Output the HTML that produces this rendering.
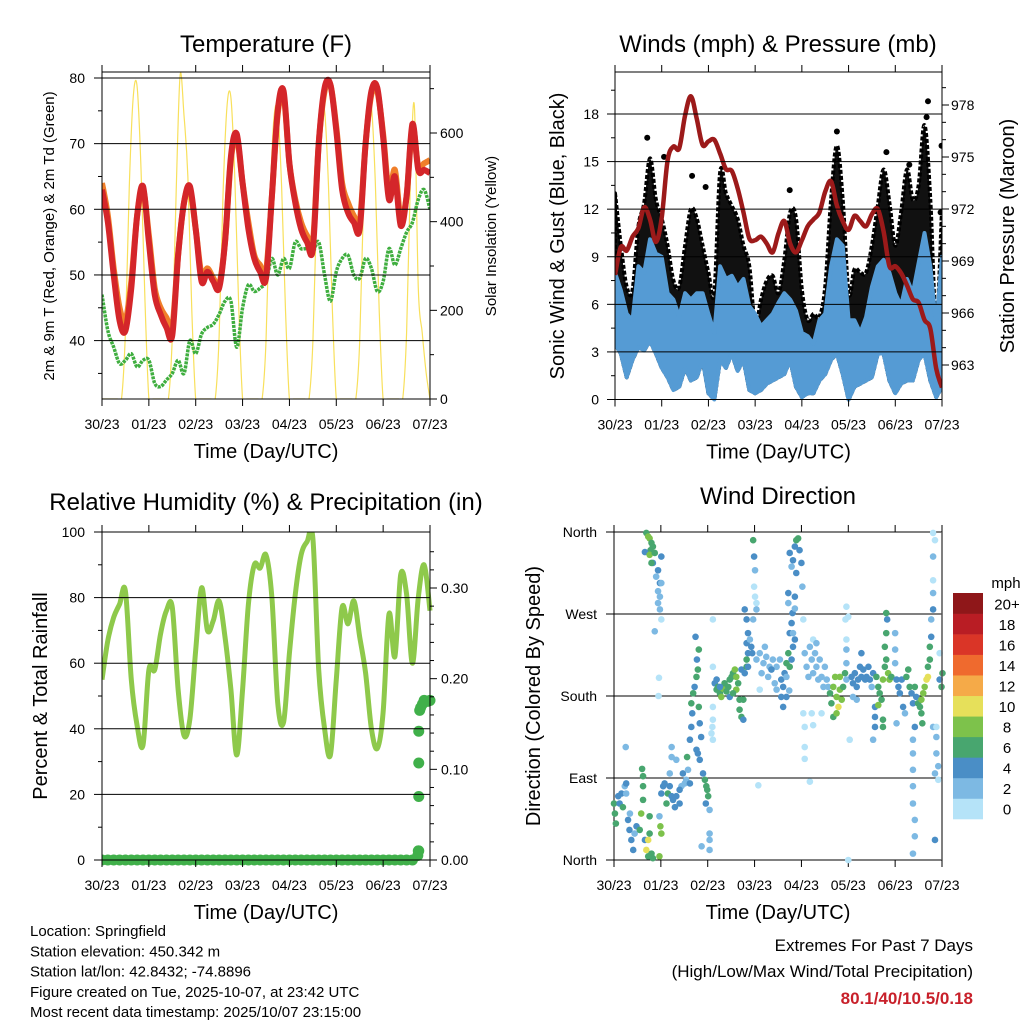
<!DOCTYPE html>
<html><head><meta charset="utf-8"><style>
html,body{margin:0;padding:0;background:#fff;}
svg{display:block;font-family:"Liberation Sans",Arial,sans-serif;}
</style></head><body>
<svg id="chart" width="1024" height="1024" viewBox="0 0 1024 1024" xmlns="http://www.w3.org/2000/svg">
<rect width="1024" height="1024" fill="#fff"/>
<g id="root"></g>
</svg>
<script>
// ---------- shared time axis ----------
const dayLabels = ['30/23','01/23','02/23','03/23','04/23','05/23','06/23','07/23'];
// ---------- temperature panel (3-hourly) ----------
const temp2m = [63,58,50,43,41.5,48,59,63.5, 55,47,44,42,40.8,53,61,63.5, 57,49,50.5,49,48,55,68,71.5, 64,57,52.5,50.5,49.5,62,75,78, 67,61,57,55,54,70,78.5,79, 72,63,59.5,58,57,70,78,78.5, 71,61.5,65,57.5,62,73,66,66, 65.5];
const temp9m = [64,59,51,45,43,49,59,63, 56,48,45,43.5,42,53,61,63, 57,50,51,49.5,48.5,55,67.5,71, 64,58,53,51.5,50.5,62,74.5,77.5, 67,61.5,58,56,55,70,78,79, 72.5,64,61,59,58,70,77.5,78, 71.5,62.5,66,58.5,62,72.5,66.5,67, 67.5];
const dew2m = [47,41.5,39,36.5,37,38,36,37, 37,33.5,33,34,35,37,35,40, 38,41,42,42.5,44,46,46,39, 45,48.5,47.5,48,49,52.5,50,52.5, 51,55,54,54,53.5,55,50,46, 50.5,52.5,53,50,49.5,52.5,51,47.5, 49,54,51.5,54,56.5,58,61.5,63, 60];
// solar insolation, 2-hourly
const solar = [0,0,0,0,0,0,150,480,680,705,520,220,
 0,0,0,0,0,0,140,470,730,640,500,200,
 0,0,0,0,0,0,140,460,660,680,500,210,
 0,0,0,0,0,0,130,440,630,650,480,200,
 0,0,0,0,0,0,130,440,640,650,480,200,
 0,0,0,0,0,0,130,450,650,660,490,200,
 0,0,0,0,0,0,150,500,660,250,150,60, 0];
const tempTicks = [40,50,60,70,80];
const solarTicks = [0,200,400,600];
// ---------- wind panel (3-hourly) ----------
const windHi = [8.0,6.9,5.4,5.0,8.4,8.0,10.1,9.2, 9.0,6.7,6.3,5.2,6.7,6.3,6.7,6.7, 5.4,4.2,8.4,7.6,7.8,7.1,7.6,5.9, 5.4,4.6,5.0,5.4,6.1,6.7,6.3,5.6, 4.2,4.0,3.5,5.0,5.4,8.4,10.1,9.7, 5.0,5.0,4.2,5.2,7.1,8.4,8.8,8.0, 6.7,5.9,7.6,6.7,8.6,10.5,8.4,4.6, 9.0];
const windLo = [3.5,2.9,1.4,2.5,3.3,3.1,3.7,2.9, 2.0,1.4,0.6,0.8,2.0,1.2,1.4,2.5, 0.4,0,2.5,2.0,2.9,1.8,2.5,0.6, 0.4,0.6,1.0,1.2,1.4,1.6,2.5,0.8, 0.15,0.4,0.4,1.2,1.6,2.5,2.9,1.6, 0,0.8,1.0,1.2,1.4,2.9,2.9,1.2, 0.4,1.0,1.2,1.2,2.5,2.9,1.2,0.15, 0.8];
const gustHi = [13,9.7,7.1,6.9,10.9,12.4,15.2,12.6, 11.4,9.7,7.5,7.1,9.7,12,11.4,9.7, 8,6.7,14.3,13,12.2,11.4,9.7,8.4, 4.6,6.3,7.5,7.8,6.7,8.8,11.8,11.4, 6.9,5,5.4,5.2,7.1,12.6,16,12.6, 6.7,8.2,8,8,9.7,12.2,14.5,12.4, 9.7,11.8,14.5,12.6,13.5,17.3,12.6,4.6, 12];
const gustOutT = [6.70,6.67,4.75,0.69,1.05,1.65,1.94,3.74,6.99,5.81,6.30,6.97];
const gustOutV = [18.8,17.8,16.9,16.5,15.3,14.1,13.4,13.2,16.0,15.6,14.8,11.8];
const pressure = [968.2,969.8,969.6,970.4,970.9,972.1,971.4,970.1, 971.5,974.8,975.6,975.5,977.4,978.5,977.2,975.7, 975.9,976.0,975.2,974.3,974.2,973.2,971.8,970.3, 970.2,970.4,970.0,969.5,970.6,971.3,970.0,969.5, 970.2,971.0,971.4,971.8,973.0,973.6,972.2,971.3, 970.8,971.6,971.3,971.0,971.7,972.0,970.7,968.7, 968.7,968.3,967.6,966.8,966.6,965.6,965.1,962.8, 961.7];
const windTicks = [0,3,6,9,12,15,18];
const presTicks = [963,966,969,972,975,978];
// ---------- RH / precip (3-hourly) ----------
const rh = [55,67,74,78,82,55,41,35, 58,58,69,76,77,52,38,43, 64,83,70,73,79,68,52,32, 52,78,90,89,93,80,48,42, 63,81,93,97,98,58,40,32, 55,77,72,79,68,57,40,34, 45,75,62,87,81,60,80,90, 76];
const precip3h = [0,0,0,0,0,0,0,0, 0,0,0,0,0,0,0,0, 0,0,0,0,0,0,0,0, 0,0,0,0,0,0,0,0, 0,0,0,0,0,0,0,0, 0,0,0,0,0,0,0,0, 0,0,0,0,0,0,0.01,0.176, 0.176];
const precipBurstT = [6.74,6.76,6.76,6.76,6.76,6.78,6.80,6.84,6.95];
const precipBurstV = [0.005,0.01,0.07,0.107,0.142,0.165,0.168,0.172,0.175];
const rhTicks = [0,20,40,60,80,100];
const prTicks = [0,0.1,0.2,0.3];
const prTickLabels = ['0.00','0.10','0.20','0.30'];
// ---------- wind direction ----------
const dirTicks = [0,90,180,270,360];
const dirLabels = ['North','East','South','West','North'];
const spdLabels = ['0','2','4','6','8','10','12','14','16','18','20+'];
const windDirT = [
0.00,0.02,0.04,0.09,0.12,0.16,0.19,0.23,0.26,0.26, 0.30,0.33,0.37,0.41,0.44,0.48,0.34, 0.25,
0.55,0.58,0.62,0.62,0.62,0.60,0.66,0.69,0.73,0.76,0.76,0.80,0.73, 0.83,0.97,0.99,1.01,0.97, 0.96,0.95,
0.69,0.73,0.76,0.80,0.83,0.78,0.66,0.76,0.87,0.83,0.80,0.94,0.90,0.98,0.94,0.98,0.94,0.98,1.01,0.87,1.01,1.01,
1.01,1.05,1.08,1.12,1.15,1.19,1.23,1.26,1.30,1.33,1.40,1.44,1.47,1.51,1.40,1.54,1.58,1.62,
1.23,1.23,1.33,1.19,
1.56,1.62,1.65,1.67,1.65,1.69,1.72,1.76,1.79,1.74,1.77,1.81,1.83,1.86,1.76,1.79,1.83,1.81,
1.90,1.94,1.97,2.01,1.96,2.04,1.99, 2.04,2.04,2.04,1.87, 2.11,2.11,2.10,2.11,2.08,2.11,2.11,
2.15,2.19,2.22,2.26,2.29,2.33,2.36,2.40,2.44,2.47,2.51,2.54,2.58,2.61,2.61,2.65,2.68,2.68,2.72,2.76,2.72,2.76,2.79,2.83,2.83,2.86,2.86,2.19,2.26,2.47,2.54,
2.79,2.83,2.86,2.83,2.90,2.93,2.95, 2.97,2.99,3.01,2.99,3.01,3.04,3.04,2.97, 3.08,
3.04,3.11,3.19,3.25,3.32,3.39,3.47,3.15,3.22,3.29,3.36,3.43,3.54,3.57,3.61,3.57,3.61,3.64,3.68,3.72,3.75,3.79,3.82,3.75,3.79,3.86,3.81,3.72,3.68,3.11,3.47,
3.75,3.79,3.82,3.86,3.89,3.93,3.96,4.00,3.89,3.86,3.86,3.72,4.02,4.04,3.82, 3.74,3.68,
4.07,4.11,4.15,4.18,4.22,4.25,4.29,4.32,4.36,4.39,4.43,4.47,4.50,4.54,4.57,4.25,4.32,
4.61,4.64,4.68,4.72,4.75,4.79,4.82,4.86,4.89,4.82,4.68,4.75,4.93,4.96,4.96,
4.04,4.07,4.07,4.07,4.18,4.22,4.43,4.25, 4.96,5.00,4.94,4.96,4.96, 5.03,5.00,
5.07,5.10,5.14,5.18,5.21,5.25,5.28,5.32,5.36,5.39,5.43,5.46,5.50,5.53,5.10,5.18,5.28,
5.60,5.64,5.67,5.71,5.74,5.78,5.81,5.85,5.88,5.92,5.78,5.81,5.83,5.81,5.74,5.74,5.57,5.57,5.57,5.53,5.64,
6.00,6.00,6.00,6.03,6.07,6.10,6.14,6.17,6.21,6.03,6.24,6.28,6.31,6.35,6.38,6.42,6.45,6.49,6.53,6.56,6.60,6.63,6.67,6.70,6.70,6.74,6.74,6.77,6.77,6.81,6.81,6.81,6.81,6.85,6.81,
6.56,6.58,6.42,6.38,6.38,6.38,6.38,6.38,6.42,6.42,6.38,6.85,6.81,6.88,6.88,6.92,6.85,6.92,6.95,6.99,7.01,6.95,6.88];
const windDirDeg = [
62,51,40,70,62,73,58,81,84,73, 44,33,22,11,29,37,51, 124,
33,51,66,81,92,100,22,11,22,29,48,7,4, 2,4,37,29,48, 200,180,
359,355,353,348,344,340,338,335,337,326,326,318,311,304,295,289,282,275,264,251,333,304,
73,81,84,62,73,81,70,66,58,70,62,81,95,84,77,88,99,84,
124,113,110,95,
113,132,146,161,172,183,190,201,209,245,220,231,150,135,121,117,110,168,
95,88,81,70,62,55,77, 29,22,11,15, 168,154,146,132,139,212,264,
194,187,190,183,179,188,194,185,190,198,201,205,209,201,187,194,176,165,157,176,209,154,205,212,220,227,212,198,190,179,183,
275,264,249,238,242,234,227, 351,333,318,300,289,282,275,264, 82,
220,227,216,223,212,220,212,205,234,201,209,194,220,198,190,179,168,205,216,227,212,220,234,249,260,242,271,282,201,187,187,
337,322,329,344,351,353,340,326,315,289,276,293,300,264,249, 186,179,
227,212,201,234,220,205,227,212,198,220,201,190,212,198,190,242,238,
183,172,190,201,179,168,187,176,190,201,157,161,205,198,216,
161,146,124,111,86,161,161,148, 278,267,264,242,231, 132,0,
201,194,205,190,198,212,201,209,198,201,212,198,190,205,179,176,227,
201,190,183,176,198,212,220,205,198,201,234,249,264,271,154,146,168,157,146,132,170,
249,231,216,198,190,183,198,168,161,150,201,209,190,183,172,190,179,172,168,176,183,190,198,201,212,220,234,245,264,275,293,307,333,351,359,
161,150,146,132,117,99,81,62,44,26,7,22,146,135,117,103,95,88,198,190,205,227,146];
const windDirSpd = [
7,6,7,5,4,5,6,3,4,2, 4,4,5,5,3,4,3, 3,
7,8,6,7,6,6,5,10,10,6,7,6,7, 7,8,8,9,3, 1,1,
7,8,8,7,7,6,4,8,7,5,6,4,3,4,3,2,2,2,1,3,4,3,
5,4,4,6,6,5,4,5,5,4,4,3,4,3,4,3,3,5,
2,2,2,2,
6,4,4,5,6,7,4,6,7,4,4,6,4,5,5,4,4,6,
4,6,6,6,5,3,7, 2,2,2,2, 1,1,1,1,1,1,1,
5,6,7,7,8,8,7,6,6,7,6,6,8,8,8,7,6,7,7,6,5,5,4,6,7,5,5,4,5,5,6,
4,4,5,4,3,4,4, 7,4,2,1,1,1,2,2, 1,
2,2,2,2,2,2,2,2,2,3,4,3,2,4,4,4,4,5,6,7,6,4,4,4,4,4,4,3,3,1,2,
4,3,4,4,6,7,4,4,4,4,3,4,2,1,3, 2,4,
2,2,2,2,2,2,2,2,2,2,2,2,2,2,3,1,2,
6,7,8,9,8,10,9,8,7,8,6,9,7,3,2,
1,1,1,1,1,1,1,1, 1,1,1,1,2, 1,1,
4,4,4,4,4,4,4,4,4,4,4,4,3,4,3,2,4,
6,7,7,6,8,6,6,8,8,7,7,6,4,6,6,6,4,4,4,3,8,
2,2,3,4,4,4,4,4,3,3,6,7,6,5,4,6,5,7,6,8,8,9,10,10,6,7,6,4,3,4,2,1,2,1,1,
6,6,4,3,2,2,2,2,2,2,3,4,2,2,2,2,2,1,4,6,6,1,1];

// ---------- rendering helpers ----------
const NS = 'http://www.w3.org/2000/svg';
const root = document.getElementById('root');
function mk(tag, attrs, parent, text) {
  const e = document.createElementNS(NS, tag);
  for (const k in attrs) e.setAttribute(k, attrs[k]);
  if (text !== undefined) e.textContent = text;
  (parent || root).appendChild(e);
  return e;
}
function lin(d0, d1, p0, p1) { return v => p0 + (v - d0) * (p1 - p0) / (d1 - d0); }
function grp(name) {
  const g = mk('g', {});
  
  
  return g;
}
function txt(parent, x, y, s, size, anchor, name, extra) {
  const t = mk('text', Object.assign({x: x, y: y, 'font-size': size, 'text-anchor': anchor || 'middle', fill: '#000'}, extra || {}), parent, s);
  
  
  return t;
}
function vtxt(parent, x, y, s, size, name) {
  const t = mk('text', {x: 0, y: 0, 'font-size': size, 'text-anchor': 'middle', fill: '#000', transform: 'translate(' + x + ',' + y + ') rotate(-90)'}, parent, s);
  
  
  return t;
}
function pathFrom(xs, ys) {
  let d = '';
  for (let i = 0; i < xs.length; i++) d += (i ? 'L' : 'M') + xs[i].toFixed(1) + ',' + ys[i].toFixed(1);
  return d;
}
// smooth Catmull-Rom path through points
function smoothPath(xs, ys) {
  let d = 'M' + xs[0].toFixed(1) + ',' + ys[0].toFixed(1);
  for (let i = 0; i < xs.length - 1; i++) {
    const x0 = xs[Math.max(0, i - 1)], y0 = ys[Math.max(0, i - 1)];
    const x1 = xs[i], y1 = ys[i], x2 = xs[i + 1], y2 = ys[i + 1];
    const x3 = xs[Math.min(xs.length - 1, i + 2)], y3 = ys[Math.min(xs.length - 1, i + 2)];
    const c1x = x1 + (x2 - x0) / 6, c1y = y1 + (y2 - y0) / 6;
    const c2x = x2 - (x3 - x1) / 6, c2y = y2 - (y3 - y1) / 6;
    d += 'C' + c1x.toFixed(1) + ',' + c1y.toFixed(1) + ' ' + c2x.toFixed(1) + ',' + c2y.toFixed(1) + ' ' + x2.toFixed(1) + ',' + y2.toFixed(1);
  }
  return d;
}
function seriesT(n, perDay) { const a = []; for (let i = 0; i < n; i++) a.push(i / perDay); return a; }

function frame(g, x0, x1, y0, y1, yTickPos, minorLeft, minorRight, xsc) {
  const ax = mk('g', {stroke: '#000', 'stroke-width': 1, fill: 'none'}, g);
  
  
  yTickPos.forEach(y => mk('line', {x1: x0, x2: x1, y1: y, y2: y}, ax));
  mk('rect', {x: x0, y: y0, width: x1 - x0, height: y1 - y0}, ax);
  for (let d = 0; d <= 7; d++) {
    const x = xsc(d);
    mk('line', {x1: x, x2: x, y1: y1, y2: y1 + 7}, ax);
    mk('line', {x1: x, x2: x, y1: y0, y2: y0 - 7}, ax);
    txt(g, x, y1 + 30, dayLabels[d], 14, 'middle', 'x-tick-label');
  }
  yTickPos.forEach(y => mk('line', {x1: x0 - 8, x2: x0, y1: y, y2: y}, ax));
  minorLeft.forEach(y => mk('line', {x1: x0 - 4, x2: x0, y1: y, y2: y}, ax));
  minorRight.forEach(y => mk('line', {x1: x1, x2: x1 + 4, y1: y, y2: y}, ax));
  txt(g, (x0 + x1) / 2, y1 + 59, 'Time (Day/UTC)', 20, 'middle', 'x-axis-title');
}

// ================= Panel 1: Temperature =================
(function () {
  const g = grp('temperature-panel');
  const X = lin(0, 7, 102, 430), Y = lin(40, 80, 340.6, 78), S = lin(0, 600, 399, 133);
  const clip = mk('clipPath', {id: 'c1'}, g); mk('rect', {x: 102, y: 72, width: 328, height: 327}, clip);
  const gridY = tempTicks.map(Y);
  const minL = [35, 45, 55, 65, 75].map(Y);
  const minR = [100, 300, 500, 700].map(S);
  const d = mk('g', {'clip-path': 'url(#c1)'}, g);
  const ts = seriesT(solar.length, 12);
  const sl = mk('path', {d: smoothPath(ts.map(X), solar.map(S)), stroke: '#f8e05c', 'stroke-width': 1.2, fill: 'none'}, d);
   
  const t3 = seriesT(temp2m.length, 8);
  const dl = mk('path', {d: smoothPath(t3.map(X), dew2m.map(Y)), stroke: '#3fae3f', 'stroke-width': 3.5, 'stroke-dasharray': '3 1', fill: 'none', 'stroke-linejoin': 'round'}, d);
   
  const ol = mk('path', {d: smoothPath(t3.map(X), temp9m.map(Y)), stroke: '#f07f2a', 'stroke-width': 6, fill: 'none', 'stroke-linejoin': 'round'}, d);
   
  const rl = mk('path', {d: smoothPath(t3.map(X), temp2m.map(Y)), stroke: '#d4262a', 'stroke-width': 6, fill: 'none', 'stroke-linejoin': 'round'}, d);
   
  frame(g, 102, 430, 72, 399, gridY, minL, minR, X);
  tempTicks.forEach(v => txt(g, 85, Y(v) + 5, String(v), 14, 'end', 'y-tick-label'));
  solarTicks.forEach(v => { mk('line', {x1: 430, x2: 437, y1: S(v), y2: S(v), stroke: '#000'}, g); txt(g, 440, S(v) + 5, String(v), 14, 'start', 'y2-tick-label'); });
  txt(g, 266, 52, 'Temperature (F)', 24, 'middle', 'temperature-title');
  vtxt(g, 54, 236, '2m & 9m T (Red, Orange) & 2m Td (Green)', 15, 'temperature-y-title');
  vtxt(g, 496, 236, 'Solar Insolation (Yellow)', 15, 'solar-y-title');
})();

// ================= Panel 2: Winds & Pressure =================
(function () {
  const g = grp('winds-panel');
  const X = lin(0, 7, 615, 942), Y = lin(0, 18, 399.5, 114), P = lin(963, 978, 365, 105);
  const clip = mk('clipPath', {id: 'c2'}, g); mk('rect', {x: 615, y: 72, width: 327, height: 330}, clip);
  const d = mk('g', {'clip-path': 'url(#c2)'}, g);
  const t3 = seriesT(windHi.length, 8);
  let gp = smoothPath(t3.map(X), gustHi.map(Y));
  const rev = t3.map(X).slice().reverse(), revLo = windLo.map(Y).slice().reverse();
  for (let i = 0; i < rev.length; i++) gp += 'L' + rev[i].toFixed(1) + ',' + revLo[i].toFixed(1);
  const gb = mk('path', {d: gp + 'Z', fill: '#111', stroke: '#000', 'stroke-width': 4, 'stroke-linejoin': 'round', 'stroke-dasharray': '4 2'}, d);
   
  gustOutT.forEach((t, i) => {
    const c = mk('circle', {cx: X(t), cy: Y(gustOutV[i]), r: 3, fill: '#000'}, d);
     
  });
  let bp = pathFrom(t3.map(X), windHi.map(Y));
  for (let i = 0; i < rev.length; i++) bp += 'L' + rev[i].toFixed(1) + ',' + revLo[i].toFixed(1);
  const bb = mk('path', {d: bp + 'Z', fill: '#559bd4', stroke: '#559bd4', 'stroke-width': 4, 'stroke-linejoin': 'round'}, d);
   
  const pl = mk('path', {d: smoothPath(t3.map(X), pressure.map(P)), stroke: '#9c1a1a', 'stroke-width': 4.5, fill: 'none', 'stroke-linejoin': 'round'}, d);
   
  const minL = [1.5, 4.5, 7.5, 10.5, 13.5, 16.5, 19.5].map(Y);
  const minR = [964, 965, 967, 968, 970, 971, 973, 974, 976, 977, 979].map(P).filter(y => y > 72);
  frame(g, 615, 942, 72, 399.5, windTicks.map(Y), minL, minR, X);
  windTicks.forEach(v => txt(g, 599, Y(v) + 5, String(v), 14, 'end', 'y-tick-label'));
  presTicks.forEach(v => { mk('line', {x1: 942, x2: 949, y1: P(v), y2: P(v), stroke: '#000'}, g); txt(g, 951, P(v) + 5, String(v), 14, 'start', 'y2-tick-label'); });
  txt(g, 778, 52, 'Winds (mph) & Pressure (mb)', 24, 'middle', 'winds-title');
  vtxt(g, 564, 236, 'Sonic Wind & Gust (Blue, Black)', 20, 'wind-y-title');
  vtxt(g, 1014, 236, 'Station Pressure (Maroon)', 20, 'pressure-y-title');
})();

// ================= Panel 3: RH & Precip =================
(function () {
  const g = grp('humidity-panel');
  const X = lin(0, 7, 102, 430), Y = lin(0, 100, 860, 532), R = lin(0, 0.3, 860, 588);
  const clip = mk('clipPath', {id: 'c3'}, g); mk('rect', {x: 102, y: 532, width: 340, height: 340}, clip);
  const d = mk('g', {'clip-path': 'url(#c3)'}, g);
  const t3 = seriesT(rh.length, 8);
  const rl = mk('path', {d: smoothPath(t3.map(X), rh.map(Y)), stroke: '#8ec94b', 'stroke-width': 5, fill: 'none', 'stroke-linejoin': 'round'}, d);
   
  precip3h.forEach((v, i) => {
    const c = mk('circle', {cx: X(t3[i]), cy: R(v), r: 5.5, fill: '#40b04a'}, d);
     
  });
  precipBurstT.forEach((t, i) => {
    const c = mk('circle', {cx: X(t), cy: R(precipBurstV[i]), r: 5.5, fill: '#40b04a'}, d);
     
  });
  const minL = [10, 30, 50, 70, 90].map(Y);
  const minR = [0.02, 0.04, 0.06, 0.08, 0.12, 0.14, 0.16, 0.18, 0.22, 0.24, 0.26, 0.28, 0.32, 0.34].map(R);
  frame(g, 102, 430, 532, 860, rhTicks.map(Y), minL, minR, X);
  rhTicks.forEach(v => txt(g, 85, Y(v) + 5, String(v), 14, 'end', 'y-tick-label'));
  prTicks.forEach((v, i) => { mk('line', {x1: 430, x2: 437, y1: R(v), y2: R(v), stroke: '#000'}, g); txt(g, 441, R(v) + 5, prTickLabels[i], 14, 'start', 'y2-tick-label'); });
  txt(g, 266, 510, 'Relative Humidity (%) & Precipitation (in)', 24, 'middle', 'humidity-title');
  vtxt(g, 47, 696, 'Percent & Total Rainfall', 20, 'humidity-y-title');
})();

// ================= Panel 4: Wind Direction =================
(function () {
  const g = grp('wind-direction-panel');
  const X = lin(0, 7, 614, 942), Y = lin(0, 360, 860, 532);
  const colors = ['#b5e3f8', '#7db9e3', '#4a8ec6', '#48a66f', '#7dc24b', '#e6e05a', '#f5aa48', '#ef6a2e', '#da3527', '#b91d24', '#8f1719'];
  const clip = mk('clipPath', {id: 'c4'}, g); mk('rect', {x: 606, y: 526, width: 344, height: 340}, clip);
  frame(g, 614, 942, 532, 860, dirTicks.map(Y), [], [], X);
  const d = mk('g', {'clip-path': 'url(#c4)'}, g);
  windDirT.forEach((t, i) => {
    const ci = Math.min(10, Math.floor(windDirSpd[i] / 2));
    const c = mk('circle', {cx: X(t), cy: Y(windDirDeg[i]), r: 3.3, fill: colors[ci]}, d);
     
  });
  mk('line', {x1: 942, x2: 942, y1: 532, y2: 860, stroke: '#555', 'stroke-width': 1.5}, g);
  dirTicks.forEach((v, i) => txt(g, 597, Y(v) + 5, dirLabels[i], 14, 'end', 'y-tick-label'));
  txt(g, 778, 504, 'Wind Direction', 24, 'middle', 'wind-direction-title');
  vtxt(g, 540, 696, 'Direction (Colored By Speed)', 20, 'direction-y-title');
  const cb = grp('speed-colorbar');
  const bh = 226 / 11;
  colors.forEach((c, i) => {
    const y = 819 - (i + 1) * bh;
    const r = mk('rect', {x: 953, y: y, width: 30, height: bh + 0.3, fill: c}, cb);
     
    txt(cb, 1007, y + bh / 2 + 6, spdLabels[i], 15, 'middle', 'colorbar-label');
  });
  txt(cb, 1006, 588, 'mph', 15, 'middle', 'colorbar-title');
})();

// ================= Footer text =================
(function () {
  const g = grp('station-info');
  const lines = ['Location: Springfield', 'Station elevation: 450.342 m', 'Station lat/lon: 42.8432; -74.8896', 'Figure created on Tue, 2025-10-07, at 23:42 UTC', 'Most recent data timestamp: 2025/10/07 23:15:00'];
  lines.forEach((s, i) => txt(g, 30, 936 + i * 20.3, s, 15, 'start', 'station-info-line'));
  const e = grp('extremes-box');
  txt(e, 973, 951, 'Extremes For Past 7 Days', 17, 'end', 'extremes-title');
  txt(e, 973, 977, '(High/Low/Max Wind/Total Precipitation)', 17, 'end', 'extremes-subtitle');
  txt(e, 973, 1004, '80.1/40/10.5/0.18', 17, 'end', 'extremes-values', {fill: '#c8202a', 'font-weight': 'bold'});
})();
</script>
</body></html>
